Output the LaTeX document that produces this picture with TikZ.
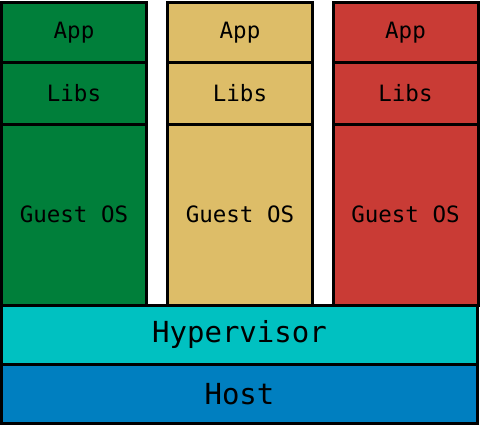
\documentclass[tikz,border=0pt]{standalone}
\usepackage{fontspec}
\setmonofont{DejaVu Sans Mono}
\usepackage{tikz}
\usetikzlibrary{positioning}
\definecolor{vmgreen}{RGB}{0,127,58}
\definecolor{vmtan}{RGB}{221,189,104}
\definecolor{vmred}{RGB}{201,59,53}
\definecolor{hypcyan}{RGB}{0,193,193}
\definecolor{hostblue}{RGB}{0,127,192}
\tikzset{%
	layer/.style  = {rectangle, minimum width=145pt, inner sep=0pt, outer sep=0pt, text centered, font=\ttfamily\fontsize{22.5}{27}\selectfont},
	app/.style    = {layer, minimum height=60pt},
	libs/.style   = {layer, minimum height=62pt},
	guest/.style  = {layer, minimum height=180.5pt},
	base/.style   = {layer, minimum width=476pt, minimum height=59.5pt, font=\ttfamily\fontsize{29}{34}\selectfont},
	border/.style = {line width=3pt},
}

\begin{document}
\begin{tikzpicture}[x=1pt,y=-1pt]
	\useasboundingbox (0,0) rectangle (480,426);
	% guest machines
	\node[app,fill=vmgreen] (app1) at (74,32.5) {App};
	\node[libs,fill=vmgreen,below=0pt of app1] (libs1) {Libs};
	\node[guest,fill=vmgreen,below=0pt of libs1] (os1) {Guest OS};
	
	\node[app,fill=vmtan] (app2) at (240,32.5) {App};
	\node[libs,fill=vmtan,below=0pt of app2] (libs2) {Libs};
	\node[guest,fill=vmtan,below=0pt of libs2] (os2) {Guest OS};
	
	\node[app,fill=vmred] (app3) at (405.5,32.5) {App};
	\node[libs,fill=vmred,below=0pt of app3] (libs3) {Libs};
	\node[guest,fill=vmred,below=0pt of libs3] (os3) {Guest OS};
	
	% shared layers
	\node[base,fill=hypcyan,minimum height=59pt] (hyp) at (239.5,334.5) {Hypervisor};
	\node[base,fill=hostblue,below=0pt of hyp] (host) {Host};
	
	% borders on top of all fills
	\foreach \n in {app1,libs1,os1,app2,libs2,os2,app3,libs3,os3,hyp,host}
		\draw[border] (\n.north west) rectangle (\n.south east);
\end{tikzpicture}
\end{document}
